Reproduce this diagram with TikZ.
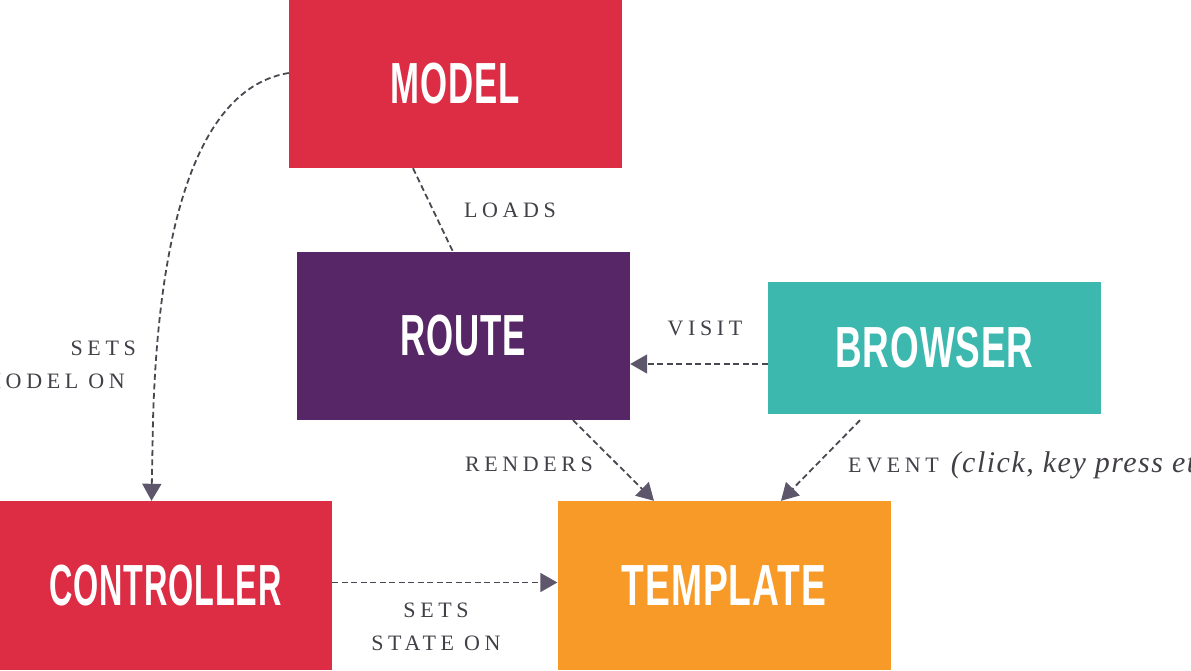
\documentclass[tikz,border=0pt]{standalone}
\usepackage{fontspec}
\setmainfont{Liberation Serif}
\newfontfamily\boxfont[FakeStretch=0.6,LetterSpace=1.5]{Liberation Sans}
\newfontfamily\labfont[LetterSpace=21]{Liberation Serif}
\newfontfamily\itfont[LetterSpace=5]{Liberation Serif}
\usetikzlibrary{arrows.meta}
\definecolor{cred}{HTML}{DC2D45}
\definecolor{cpurple}{HTML}{572667}
\definecolor{cteal}{HTML}{3DB8AF}
\definecolor{corange}{HTML}{F79A27}
\definecolor{linegray}{HTML}{4A4750}
\definecolor{arrowc}{HTML}{5E566B}
\definecolor{labgray}{HTML}{423F46}
\newcommand{\bxw}[2]{\scalebox{#1}[1]{#2}}
\tikzset{
  box/.style={rectangle, inner sep=0pt, minimum width=333pt, minimum height=168pt,
    text=white, font=\boxfont\bfseries\fontsize{58}{58}\selectfont},
  lab/.style={text=labgray, inner sep=0pt, font=\labfont\fontsize{22}{33}\selectfont},
  conn/.style={draw=linegray, line width=1.8pt, dash pattern=on 6pt off 3.5pt},
  arr/.style={conn, -{Triangle[width=19pt,length=17pt,color=arrowc]}}
}
\begin{document}
\begin{tikzpicture}[x=1pt,y=-1pt]
\useasboundingbox (0,0) rectangle (1191,670);
\clip (0,0) rectangle (1191,670);
% boxes
\node[box, fill=cred] (model) at (455.5,84) {MODEL};
\node[box, fill=cpurple] (route) at (463.5,336) {ROUTE};
\node[box, fill=cteal, minimum height=132pt] (browser) at (934.5,348) {\bxw{1.06}{BROWSER}};
\node[box, fill=cred, minimum height=169pt] (controller) at (165.5,585.5) {\bxw{0.93}{CONTROLLER}};
\node[box, fill=corange, minimum height=169pt] (template) at (724,585.5) {\bxw{1.07}{TEMPLATE}};
% connectors
\draw[conn] ([xshift=-42.5pt]model.south) -- ([xshift=-10.5pt]route.north);
\draw[arr] ([yshift=11pt]model.west) .. controls (215,85) and (160,180) .. (153,420) -- ([xshift=-14pt]controller.north);
\draw[arr] ([yshift=-16pt]browser.west) -- ([yshift=-28pt]route.east);
\draw[arr] ([xshift=109.5pt]route.south) -- ([xshift=-70pt]template.north);
\draw[arr] ([xshift=-74.5pt,yshift=-6pt]browser.south) -- ([xshift=57pt]template.north);
\draw[arr] ([yshift=3pt]controller.east) -- ([yshift=3pt]template.west);
% labels
\node[lab] (loads) at (510,210) {LOADS};
\node[lab, align=right, anchor=east] (setsmodel) at (136,365) {SETS\\MODEL ON\hspace*{11pt}};
\node[lab] (visit) at (705,328.5) {VISIT};
\node[lab] (renders) at (529,464) {RENDERS};
\node[lab, anchor=base west] (event) at (848,472) {EVENT\hspace{12pt}{\itfont\itshape\fontsize{30}{30}\selectfont(click, key press etc.)}};
\node[lab, align=center] (setsstate) at (436,627) {SETS\\STATE ON};
\end{tikzpicture}
\end{document}
